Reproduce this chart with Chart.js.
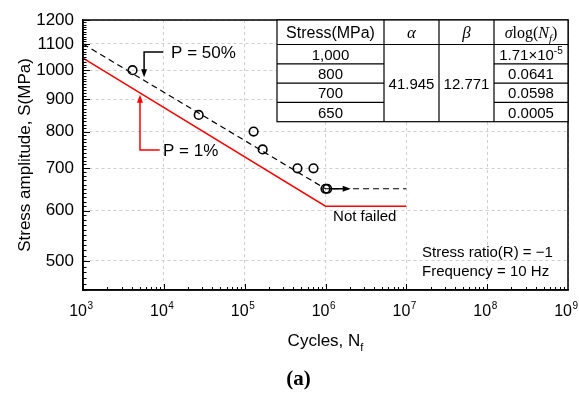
<!DOCTYPE html>
<html>
<head>
<meta charset="utf-8">
<script src="https://cdn.jsdelivr.net/npm/chart.js@4.4.1/dist/chart.umd.min.js"></script>
<style>
  body { margin: 0; background: #fff; }
  #wrap { width: 579px; height: 394px; }
</style>
</head>
<body>
<div id="wrap"><canvas id="snChart" width="579" height="394"></canvas></div>
<script>
// test results: cycles to failure and stress amplitude (MPa)
var testCycles = [4100, 27000, 129000, 167000, 450000, 710000, 1000000, 1050000];
var testStress = [1000, 850, 800, 750, 700, 700, 650, 650];

// P = 50% curve (dashed) and P = 1% curve (red)
var p50Cycles = [1e3, 1e6, 1e7];
var p50Stress = [1100, 650, 650];
var p1Cycles = [1e3, 1e6, 1e7];
var p1Stress = [1045, 610, 610];

// axes
var xTicks = [1e3, 1e4, 1e5, 1e6, 1e7, 1e8, 1e9];
var xTickExp = ['3', '4', '5', '6', '7', '8', '9'];
var yTicks = [500, 600, 700, 800, 900, 1000, 1100, 1200];

// table in the corner
var tableStress = ['1,000', '800', '700', '650'];
var tableAlpha = '41.945';
var tableBeta = '12.771';
var tableSigma = [['1.71\u00d710', '-5'], ['0.0641'], ['0.0598'], ['0.0005']];

// annotation anchors, in data units (cycles, MPa)
var p50Arrow = [[9800, 1068], [5700, 1068], [5700, 975]];
var p50Label = [12300, 1062];
var p1Arrow = [[8900, 748], [5070, 748], [5070, 915]];
var p1Label = [9780, 746];
var runoutArrow = [[1.1e6, 650], [2.05e6, 650]];
var notFailedLabel = [1.24e6, 587];

var SANS = "'Liberation Sans', Arial, sans-serif";
var SERIF = "'Liberation Serif', 'Times New Roman', serif";

function pairs(xs, ys) {
  return xs.map(function(x, i) { return {x: x, y: ys[i]}; });
}

// draw several text runs one after another, centred on cx
function drawRich(ctx, parts, cx, y) {
  var total = 0;
  parts.forEach(function(p) {
    ctx.font = p.font;
    p.w = ctx.measureText(p.t).width;
    total += p.w;
  });
  var x = cx - total / 2;
  ctx.textAlign = 'left';
  parts.forEach(function(p) {
    ctx.font = p.font;
    ctx.fillText(p.t, x, y + (p.dy || 0));
    x += p.w;
  });
}

function drawArrow(ctx, pts, color) {
  var n = pts.length, p = pts[n - 1], q = pts[n - 2];
  var ang = Math.atan2(p[1] - q[1], p[0] - q[0]);
  var L = 8, W = 3;
  var c = Math.cos(ang), s = Math.sin(ang);
  ctx.strokeStyle = color;
  ctx.fillStyle = color;
  ctx.lineWidth = 1.5;
  ctx.setLineDash([]);
  ctx.beginPath();
  ctx.moveTo(pts[0][0], pts[0][1]);
  for (var i = 1; i < n - 1; i++) ctx.lineTo(pts[i][0], pts[i][1]);
  ctx.lineTo(p[0] - L * c * 0.8, p[1] - L * s * 0.8);
  ctx.stroke();
  ctx.beginPath();
  ctx.moveTo(p[0], p[1]);
  ctx.lineTo(p[0] - L * c + W * s, p[1] - L * s - W * c);
  ctx.lineTo(p[0] - L * c - W * s, p[1] - L * s + W * c);
  ctx.closePath();
  ctx.fill();
}

var sketchExtras = {
  id: 'sketchExtras',
  afterDraw: function(chart) {
    var ctx = chart.ctx, xs = chart.scales.x, ys = chart.scales.y, a = chart.chartArea;
    function px(v) { return [xs.getPixelForValue(v[0]), ys.getPixelForValue(v[1])]; }

    ctx.save();
    ctx.strokeStyle = '#000';
    ctx.fillStyle = '#000';
    ctx.setLineDash([]);

    // inward tick marks on the bottom axis
    ctx.lineWidth = 1;
    ctx.beginPath();
    for (var e = 3; e < 9; e++) {
      for (var k = 1; k < 10; k++) {
        var xp = xs.getPixelForValue(k * Math.pow(10, e));
        var len = k === 1 ? 6 : 3;
        ctx.moveTo(Math.round(xp) + 0.5, a.bottom);
        ctx.lineTo(Math.round(xp) + 0.5, a.bottom - len);
      }
    }
    // inward tick marks on the left axis, every 10 MPa
    for (var v = 450; v <= 1200; v += 10) {
      var yp = ys.getPixelForValue(v);
      var ylen = yTicks.indexOf(v) >= 0 ? 7 : 3.5;
      ctx.moveTo(a.left, Math.round(yp) + 0.5);
      ctx.lineTo(a.left + ylen, Math.round(yp) + 0.5);
    }
    ctx.stroke();

    // frame
    ctx.lineWidth = 1.5;
    ctx.strokeRect(a.left, a.top, a.right - a.left, a.bottom - a.top);

    // x tick labels 10^n
    ctx.textBaseline = 'alphabetic';
    xTicks.forEach(function(t, i) {
      var xp = xs.getPixelForValue(t);
      ctx.font = '16px ' + SANS;
      ctx.textAlign = 'right';
      ctx.fillText('10', xp + 4, a.bottom + 26);
      ctx.font = '10px ' + SANS;
      ctx.textAlign = 'left';
      ctx.fillText(xTickExp[i], xp + 4.5, a.bottom + 19);
    });

    // x axis title with subscript
    drawRich(ctx, [
      {t: 'Cycles, N', font: '17px ' + SANS},
      {t: 'f', font: '11px ' + SANS, dy: 5}
    ], (a.left + a.right) / 2, a.bottom + 56);

    // (a)
    ctx.font = 'bold 21px ' + SERIF;
    ctx.textAlign = 'center';
    ctx.fillText('(a)', (a.left + a.right) / 2 - 27, 385);

    // curve annotations
    var pts = p50Arrow.map(px);
    drawArrow(ctx, pts, '#000');
    pts = p1Arrow.map(px);
    drawArrow(ctx, pts, '#ff0000');
    pts = runoutArrow.map(px);
    drawArrow(ctx, pts, '#000');

    ctx.fillStyle = '#000';
    ctx.textAlign = 'left';
    ctx.textBaseline = 'middle';
    ctx.font = '17px ' + SANS;
    var lp = px(p50Label);
    ctx.fillText('P = 50%', lp[0], lp[1]);
    lp = px(p1Label);
    ctx.fillText('P = 1%', lp[0], lp[1]);
    ctx.font = '15px ' + SANS;
    lp = px(notFailedLabel);
    ctx.fillText('Not failed', lp[0], lp[1]);

    // test conditions
    ctx.fillText('Stress ratio(R) = \u22121', a.right - 146, a.bottom - 37);
    ctx.fillText('Frequency = 10 Hz', a.right - 146, a.bottom - 18);

    // table
    var colW = [107, 55, 55, 74];
    var tRight = a.right, tLeft = tRight - colW.reduce(function(s, w) { return s + w; }, 0);
    var rowY = [a.top, a.top + 24.5];
    for (var r = 0; r < 4; r++) rowY.push(rowY[1] + (r + 1) * 19.3);
    var colX = [tLeft];
    colW.forEach(function(w, i) { colX.push(colX[i] + w); });
    var tBottom = rowY[5];

    ctx.fillStyle = '#fff';
    ctx.fillRect(tLeft, a.top, tRight - tLeft, tBottom - a.top);
    ctx.strokeStyle = '#000';
    ctx.lineWidth = 1.2;
    ctx.strokeRect(tLeft, a.top, tRight - tLeft, tBottom - a.top);
    ctx.beginPath();
    for (var c = 1; c < 4; c++) {
      ctx.moveTo(colX[c], a.top);
      ctx.lineTo(colX[c], tBottom);
    }
    ctx.moveTo(tLeft, rowY[1]);
    ctx.lineTo(tRight, rowY[1]);
    for (r = 2; r < 5; r++) {
      ctx.moveTo(colX[0], rowY[r]); ctx.lineTo(colX[1], rowY[r]);
      ctx.moveTo(colX[3], rowY[r]); ctx.lineTo(colX[4], rowY[r]);
    }
    ctx.stroke();

    ctx.fillStyle = '#000';
    ctx.textBaseline = 'alphabetic';
    var mid = function(i) { return (colX[i] + colX[i + 1]) / 2; };
    var hy = (rowY[0] + rowY[1]) / 2 + 6;
    drawRich(ctx, [{t: 'Stress(MPa)', font: '16px ' + SANS}], mid(0), hy);
    drawRich(ctx, [{t: '\u03b1', font: 'italic 17px ' + SERIF}], mid(1), hy);
    drawRich(ctx, [{t: '\u03b2', font: 'italic 17px ' + SERIF}], mid(2), hy);
    drawRich(ctx, [
      {t: '\u03c3', font: 'italic 16px ' + SERIF},
      {t: 'log(', font: '16px ' + SERIF},
      {t: 'N', font: 'italic 16px ' + SERIF},
      {t: 'f', font: 'italic 11px ' + SERIF, dy: 4},
      {t: ')', font: '16px ' + SERIF}
    ], mid(3), hy);

    for (r = 0; r < 4; r++) {
      var cy = (rowY[r + 1] + rowY[r + 2]) / 2 + 5.5;
      drawRich(ctx, [{t: tableStress[r], font: '15px ' + SANS}], mid(0), cy);
      var sp = [{t: tableSigma[r][0], font: '15px ' + SANS}];
      if (tableSigma[r][1]) sp.push({t: tableSigma[r][1], font: '10px ' + SANS, dy: -6});
      drawRich(ctx, sp, mid(3), cy);
    }
    var my = (rowY[1] + rowY[5]) / 2 + 5.5;
    drawRich(ctx, [{t: tableAlpha, font: '15px ' + SANS}], mid(1), my);
    drawRich(ctx, [{t: tableBeta, font: '15px ' + SANS}], mid(2), my);

    ctx.restore();
  }
};

var ctx = document.getElementById('snChart').getContext('2d');
var snChart = new Chart(ctx, {
  type: 'scatter',
  data: {
    datasets: [{
      label: 'P = 1%',
      data: pairs(p1Cycles, p1Stress),
      showLine: true,
      borderColor: '#ff0000',
      borderWidth: 1.5,
      pointRadius: 0,
      fill: false
    }, {
      label: 'P = 50%',
      data: pairs(p50Cycles, p50Stress),
      showLine: true,
      borderColor: '#000',
      borderWidth: 1.2,
      borderDash: [6, 4],
      pointRadius: 0,
      fill: false
    }, {
      label: 'Test',
      data: pairs(testCycles, testStress),
      pointStyle: 'circle',
      pointRadius: 4.3,
      pointBorderWidth: 1.6,
      pointBorderColor: '#000',
      pointBackgroundColor: 'rgba(0,0,0,0)'
    }]
  },
  options: {
    responsive: false,
    animation: false,
    devicePixelRatio: 1,
    layout: { padding: { left: 0, top: 20, right: 11, bottom: 0 } },
    plugins: {
      legend: { display: false },
      tooltip: { enabled: false }
    },
    scales: {
      x: {
        type: 'logarithmic',
        min: 1e3,
        max: 1e9,
        afterBuildTicks: function(scale) {
          scale.ticks = xTicks.map(function(v) { return {value: v}; });
        },
        afterFit: function(scale) { scale.height = 104; },
        ticks: { display: false },
        grid: { color: '#cfcfcf', lineWidth: 1, drawTicks: false },
        border: { color: '#000', width: 1.5, dash: [3, 3] }
      },
      y: {
        type: 'logarithmic',
        min: 450,
        max: 1200,
        afterBuildTicks: function(scale) {
          scale.ticks = yTicks.map(function(v) { return {value: v}; });
        },
        afterFit: function(scale) { scale.width = 83; },
        ticks: {
          padding: 9,
          color: '#000',
          font: { family: SANS, size: 17 },
          callback: function(value) { return String(value); }
        },
        grid: { color: '#cfcfcf', lineWidth: 1, drawTicks: false },
        border: { color: '#000', width: 1.5, dash: [3, 3] },
        title: {
          display: true,
          text: 'Stress amplitude, S(MPa)',
          color: '#000',
          font: { family: SANS, size: 17 },
          padding: { top: 15, bottom: 0 }
        }
      }
    }
  },
  plugins: [sketchExtras]
});
</script>
</body>
</html>
